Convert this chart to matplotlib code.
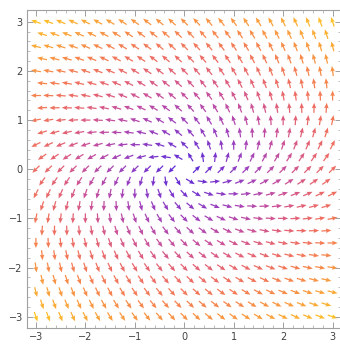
import numpy as np
import matplotlib
matplotlib.use("Agg")
import matplotlib.pyplot as plt
from matplotlib.colors import LinearSegmentedColormap

# Grid of sample points (staggered rows, as in the reference)
row_y = [3 - 0.25 * j for j in range(25)]
full_row_x = [-3 + 0.25 * i for i in range(25)]
half_row_x = [-2.875 + 0.25 * i for i in range(24)]

# Arrow direction: F = M @ (x, y)
field_matrix = [[1.0, -2.0],
                [1.0, 2.0]]
# Relative strength (colour): |F|^2 ~ x^2 + (s*y)^2
strength_y_factor = 1.3

# colour gradient by relative strength (stops)
grad_pos = [0.0, 0.15, 0.28, 0.42, 0.52, 0.62, 0.75, 0.86, 1.0]
grad_col = ["#4410d2", "#6e20c4", "#9a2eb0", "#c43e8e", "#de5068",
            "#ec6050", "#f57a38", "#f99628", "#ffbb10"]

tick_vals = [-3, -2, -1, 0, 1, 2, 3]
tick_labels = ["\u22123", "\u22122", "\u22121", "0", "1", "2", "3"]

xs, ys = [], []
for j, yv in enumerate(row_y):
    row = full_row_x if j % 2 == 0 else half_row_x
    for xv in row:
        xs.append(xv)
        ys.append(yv)
xs = np.array(xs)
ys = np.array(ys)
M = np.array(field_matrix)
U = M[0, 0] * xs + M[0, 1] * ys
V = M[1, 0] * xs + M[1, 1] * ys
mag = np.hypot(U, V)
ok = mag > 0
L = 0.205
Un = np.where(ok, U / np.where(ok, mag, 1) * L, 0)
Vn = np.where(ok, V / np.where(ok, mag, 1) * L, 0)
strength = np.hypot(xs, strength_y_factor * ys)
cval = strength / strength.max()

W, H = 340, 344
fig = plt.figure(figsize=(W / 100, H / 100), dpi=100)
ax = fig.add_axes([27 / W, 1 - 328 / H, (341 - 27) / W, (328 - 10) / H])

cmap = LinearSegmentedColormap.from_list("vec", list(zip(grad_pos, grad_col)))
colors = cmap(cval)
ax.quiver(xs[ok], ys[ok], Un[ok], Vn[ok], color=colors[ok], pivot="middle",
          angles="xy", scale_units="xy", scale=1, width=0.0040,
          headwidth=3.6, headlength=4.4, headaxislength=4.0, alpha=0.9)

ax.set_xlim(-3.18, 3.17)
ax.set_ylim(-3.23, 3.24)
ax.set_xticks(tick_vals)
ax.set_xticklabels(tick_labels)
ax.set_yticks(tick_vals)
ax.set_yticklabels(tick_labels)
ax.set_xticks(np.arange(-3, 3.01, 0.2), minor=True)
ax.set_yticks(np.arange(-3, 3.01, 0.2), minor=True)
ax.tick_params(which="both", direction="in", top=True, right=True,
               color="#a0a0a0", labelcolor="#404040", labelsize=7)
ax.tick_params(which="major", length=4, width=0.7, pad=3)
ax.tick_params(which="minor", length=2, width=0.5)
for s in ax.spines.values():
    s.set_color("#a0a0a0")
    s.set_linewidth(0.8)

fig.savefig("out.png", dpi=100)
